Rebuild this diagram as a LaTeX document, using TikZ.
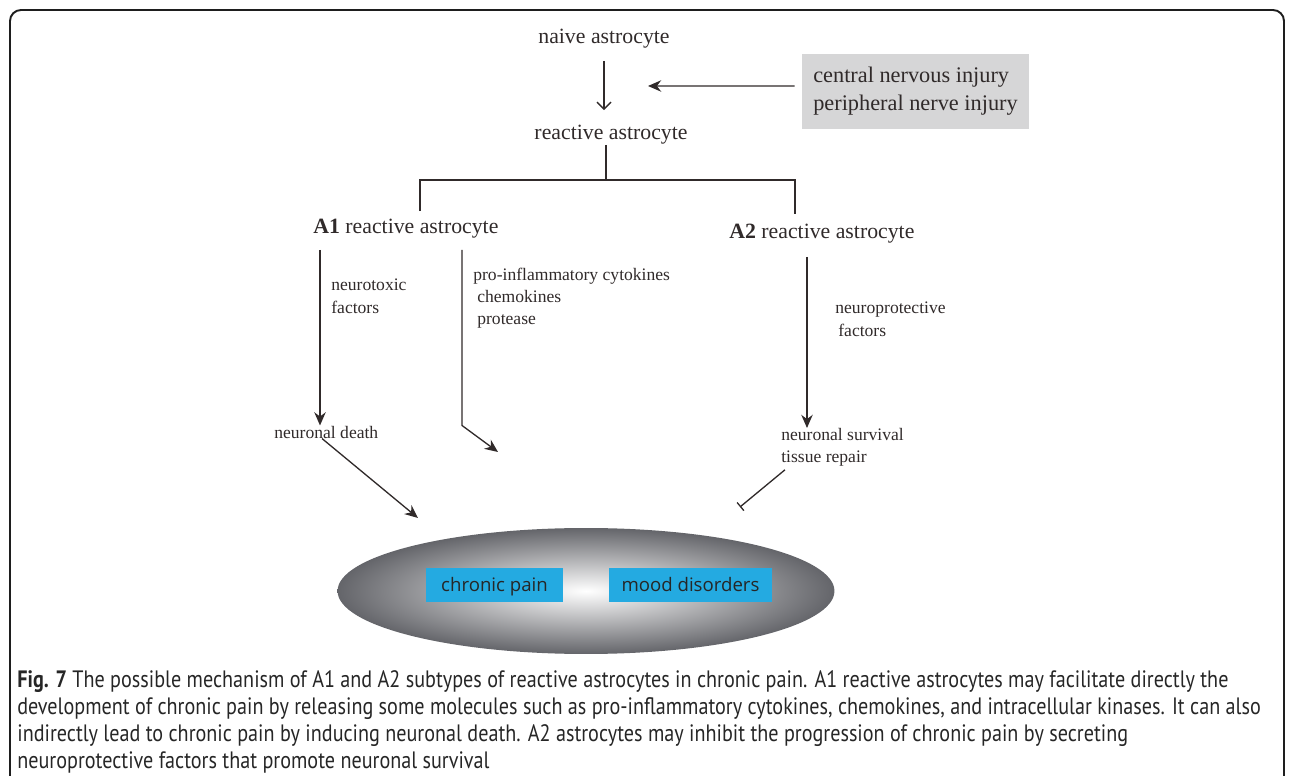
\documentclass[tikz,border=0pt]{standalone}
\usepackage{fontspec}
\setmainfont{Liberation Serif}
\newfontfamily\captionfont[FakeStretch=0.85]{PT Sans}
\newfontfamily\boxfont{Open Sans}
\usetikzlibrary{
    arrows.meta,
    positioning,
    shapes.geometric
}
\definecolor{ink}{RGB}{48,42,42}
\definecolor{framegray}{RGB}{30,30,30}
\definecolor{boxgray}{RGB}{214,214,215}
\definecolor{haze}{RGB}{100,101,106}
\definecolor{painblue}{RGB}{36,170,225}
\tikzset{
    line cap=round,
    line join=round,
    frame/.style={
        draw=framegray,
        line width=1.1pt,
        rounded corners=0.22cm
    },
    term/.style={
        text=ink,
        inner sep=0pt,
        font=\fontsize{12.4}{15}\selectfont
    },
    factor/.style={
        text=ink,
        inner sep=0pt,
        align=left,
        font=\fontsize{10}{12.6}\selectfont
    },
    injurybox/.style={
        rectangle,
        fill=boxgray,
        text=ink,
        minimum width=4.54cm,
        minimum height=1.5cm,
        align=left,
        font=\fontsize{12.7}{15.9}\selectfont
    },
    outcome/.style={
        ellipse,
        shade,
        inner color=white,
        outer color=haze,
        minimum width=9.94cm,
        minimum height=2.52cm
    },
    diseasebox/.style={
        rectangle,
        fill=painblue,
        text=black!85,
        minimum height=0.68cm,
        text height=1.8ex,
        text depth=0.2ex,
        font=\boxfont\fontsize{10.6}{13}\selectfont
    },
    branch/.style={
        draw=ink,
        line width=0.75pt
    },
    flowline/.style={
        branch,
        -{Straight Barb[length=4pt, width=8pt]}
    },
    signal/.style={
        branch,
        -{Stealth[length=7.5pt, width=6.5pt]}
    },
    inhibit/.style={
        branch,
        -{Bar[width=6pt]}
    },
    legend/.style={
        inner sep=0pt,
        align=left,
        text=black!85,
        font=\captionfont\fontsize{13.5}{15.5}\selectfont
    }
}

\begin{document}
\begin{tikzpicture}[x=0.02cm, y=-0.02cm]

\useasboundingbox (0,0) rectangle (1295,776);

% Frame (open at the bottom)
\draw[frame] (10,800) -- (10,10) -- (1284,10) -- (1284,800);

% === Activation ===
\node[term, inner sep=0.3333em] (naive) at (604,39) {naive astrocyte};
\node[term] (reactive) at (611,135) {reactive astrocyte};
\node[injurybox] (injury) at (915.5,91.5)
    {central nervous injury\\peripheral nerve injury};
\coordinate (injuryhit) at (648,86);

\draw[flowline, shorten <=0.12cm, shorten >=0.3cm]
    (naive.south) -- (naive.south |- reactive.north);
\draw[signal, shorten <=0.14cm] ([yshift=0.11cm]injury.west) -- (injuryhit);

% === Subtypes ===
\node[term, anchor=west] (a1) at (313,229) {\textbf{A1} reactive astrocyte};
\node[term, anchor=west] (a2) at (729,234) {\textbf{A2} reactive astrocyte};
\coordinate (fork) at (606,180);

\draw[branch] (fork |- reactive.south) -- (fork);
\draw[branch] ([xshift=0.28cm, yshift=0.16cm]a1.north) |- (fork)
    -| ([xshift=-0.54cm, yshift=0.2cm]a2.north);

% A1 branch
\node[factor, anchor=north west] (toxic) at (331,279) {neurotoxic\\factors};
\node[factor, anchor=north west] (cyto) at (473,268)
    {pro-inflammatory cytokines\\\hspace{0.08cm}chemokines\\\hspace{0.08cm}protease};
\node[factor, anchor=west] (death) at (274,432) {neuronal death};
\coordinate (cytohit) at (498,452);
\coordinate (deathhit) at (418,518);

\draw[signal] ([xshift=0.14cm, yshift=-0.22cm]a1.south west)
    -- ([xshift=0.14cm]a1.south west |- death.north);
\draw[signal] ([xshift=2.98cm, yshift=-0.22cm]a1.south west)
    -- ([xshift=2.98cm]a1.south west |- death.north) -- (cytohit);
\draw[signal] ([xshift=0.96cm]death.south west) -- (deathhit);

% A2 branch
\node[factor, anchor=north west] (protect) at (835,302)
    {neuroprotective\\\hspace{0.06cm}factors};
\node[factor, anchor=north west] (survival) at (781,428)
    {neuronal survival\\tissue repair};
\coordinate (repairhit) at (740,507);

\draw[signal] ([xshift=1.56cm, yshift=-0.26cm]a2.south west)
    -- ([xshift=1.56cm]a2.south west |- survival.north);
\draw[inhibit] ([xshift=0.08cm, yshift=-0.06cm]survival.south west) -- (repairhit);

% === Outcome ===
\node[outcome] (disorder) at (586,591) {};
\node[diseasebox, minimum width=2.74cm] (pain) at (494.5,585) {chronic pain};
\node[diseasebox, minimum width=3.26cm] (mood) at (690.5,585) {mood disorders};

% Caption
\node[legend, anchor=north west] (caption) at (17,670)
    {\textbf{Fig. 7} The possible mechanism of A1 and A2 subtypes of reactive astrocytes in chronic pain. A1 reactive astrocytes may facilitate directly the\\
     development of chronic pain by releasing some molecules such as pro-inflammatory cytokines, chemokines, and intracellular kinases. It can also\\
     indirectly lead to chronic pain by inducing neuronal death. A2 astrocytes may inhibit the progression of chronic pain by secreting\\
     neuroprotective factors that promote neuronal survival};

\end{tikzpicture}
\end{document}
